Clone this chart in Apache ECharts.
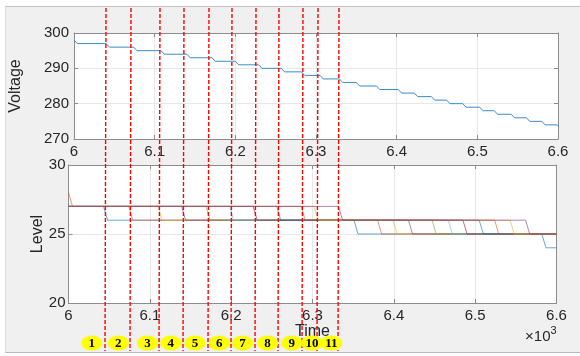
<!DOCTYPE html>
<html>
<head>
<meta charset="utf-8">
<script src="https://cdn.jsdelivr.net/npm/echarts@6/dist/echarts.min.js"></script>
<style>
  html, body { margin: 0; padding: 0; background: #fff; }
  #frame { position: absolute; left: 5px; top: 6px; width: 575px; height: 347px; background: #f0f0f0;
           border-top: 1px solid #c4c4c4; border-bottom: 1px solid #b8b8b8; border-left: 1px solid #dcdcdc; box-sizing: border-box; }
  #chart { position: absolute; left: 0; top: 0; width: 580px; height: 356px; }
</style>
</head>
<body>
<div id="frame"></div>
<div id="chart"></div>
<script>
// time axis (raw units, shown as x10^3)
const timeMin = 6000;
const timeMax = 6600;
const timeStep = 100;

// voltage: level before each drop, and the time each drop starts
const voltLevels = [298, 297, 296, 295, 294, 293, 292, 291, 290, 289, 288, 287, 286,
                    285, 284, 283, 282, 281, 280, 279, 278, 277, 276, 275, 274, 273];
const voltDropTimes = [6000, 6040, 6074, 6108, 6140, 6171, 6200, 6229, 6257, 6282, 6305, 6329,
                       6350, 6375, 6402, 6422, 6443, 6462, 6482, 6503, 6521, 6542, 6561, 6580, 6599];

// level: one line per cell (11), starting level and drop times
const levelStart = [27, 28, 27, 27, 27, 27, 27, 27, 27, 27, 27];
const levelDrop28 = [null, 6000, null, null, null, null, null, null, null, null, null];
const levelDrop27 = [6043, 6074, 6110, 6139, 6169, 6198, 6227, 6256, 6286, 6302, 6332];
const levelDrop26 = [6351, 6380, 6399, 6418, 6447, 6467, 6485, 6505, 6524, 6543, 6562];
const levelDrop25 = [6582, null, null, null, null, null, null, null, null, null, null];
const levelColors = ['#0072BD', '#D95319', '#EDB120', '#7E2F8E', '#77AC30', '#4DBEEE',
                     '#A2142F', '#0072BD', '#D95319', '#EDB120', '#7E2F8E'];

// annotation: red dashed markers and numbered tags
const markerLineX = [6040, 6071, 6107, 6136, 6167, 6196, 6225, 6254, 6284, 6302, 6329];
const markerTagX = [6022, 6055, 6091, 6120, 6150, 6180, 6209, 6240, 6270, 6295, 6319];
const markerTags = ['1', '2', '3', '4', '5', '6', '7', '8', '9', '10', '11'];

const voltRamp = 4;
const levelRamp = 5;

const axisGray = '#8c8c8c';
const textColor = '#262626';
const fontFamily = '"Liberation Sans", Arial, sans-serif';

// build step lines from the read values
const voltPoints = [[timeMin, voltLevels[0]]];
voltDropTimes.forEach((t, i) => {
  voltPoints.push([t, voltLevels[i]]);
  voltPoints.push([t + voltRamp, voltLevels[i + 1]]);
});
voltPoints.push([timeMax + voltRamp, voltLevels[voltLevels.length - 1]]);

function levelPoints(i) {
  let v = levelStart[i];
  const pts = [[timeMin, v]];
  [levelDrop28[i], levelDrop27[i], levelDrop26[i], levelDrop25[i]].forEach(d => {
    if (d == null) return;
    pts.push([d, v]);
    v -= 1;
    pts.push([d + levelRamp, v]);
  });
  pts.push([timeMax, v]);
  return pts;
}

const fmtTime = v => String(v / 1000);

function xAxisPair(gridIndex) {
  return [
    {
      type: 'value', gridIndex, min: timeMin, max: timeMax, interval: timeStep,
      axisLine: { show: true, lineStyle: { color: axisGray } },
      axisTick: { show: true, inside: true, length: 4, lineStyle: { color: axisGray } },
      axisLabel: { color: textColor, fontSize: 15, fontFamily, margin: 5, formatter: fmtTime },
      splitLine: { show: true, lineStyle: { color: '#e8e8e8' } }
    },
    {
      type: 'value', gridIndex, position: 'top', min: timeMin, max: timeMax, interval: timeStep,
      axisLine: { show: true, lineStyle: { color: axisGray } },
      axisTick: { show: true, inside: true, length: 4, lineStyle: { color: axisGray } },
      axisLabel: { show: false }, splitLine: { show: false }
    }
  ];
}

function yAxisPair(gridIndex, min, max, interval, name, nameGap, margin) {
  return [
    {
      type: 'value', gridIndex, min, max, interval,
      name, nameLocation: 'middle', nameGap, nameMoveOverlap: false,
      nameTextStyle: { color: textColor, fontSize: 16, fontFamily },
      axisLine: { show: true, lineStyle: { color: axisGray } },
      axisTick: { show: true, inside: true, length: 4, lineStyle: { color: axisGray } },
      axisLabel: { color: textColor, fontSize: 15, fontFamily, margin },
      splitLine: { show: true, lineStyle: { color: '#e8e8e8' } }
    },
    {
      type: 'value', gridIndex, position: 'right', min, max, interval,
      axisLine: { show: true, lineStyle: { color: axisGray } },
      axisTick: { show: true, inside: true, length: 4, lineStyle: { color: axisGray } },
      axisLabel: { show: false }, splitLine: { show: false }
    }
  ];
}

const xAxes = xAxisPair(0).concat(xAxisPair(1));
xAxes[2].name = 'Time';
xAxes[2].nameLocation = 'middle';
xAxes[2].nameGap = 21;
xAxes[2].nameMoveOverlap = false;
xAxes[2].nameTextStyle = { color: textColor, fontSize: 16, fontFamily };

const series = [{
  type: 'line', xAxisIndex: 0, yAxisIndex: 0, data: voltPoints,
  showSymbol: false, lineStyle: { color: '#3a8ccc', width: 1 }
}];
levelColors.forEach((c, i) => {
  series.push({
    type: 'line', xAxisIndex: 2, yAxisIndex: 2, data: levelPoints(i),
    showSymbol: false, lineStyle: { color: c, width: 1, opacity: 0.6 }
  });
});

const chart = echarts.init(document.getElementById('chart'), null, { renderer: 'canvas' });
chart.setOption({
  animation: false,
  textStyle: { fontFamily },
  grid: [
    { left: 72, top: 33, width: 486, height: 106, show: true, backgroundColor: '#fff', borderWidth: 0 },
    { left: 68.5, top: 165, width: 488, height: 138, show: true, backgroundColor: '#fff', borderWidth: 0 }
  ],
  xAxis: xAxes,
  yAxis: yAxisPair(0, 270, 300, 10, 'Voltage', 50, 5).concat(yAxisPair(1, 20, 30, 5, 'Level', 23, 3)),
  series
});

// annotations drawn in figure space, placed from the time axis
const graphics = [];
markerLineX.forEach(x => {
  const px = Math.round(chart.convertToPixel({ xAxisIndex: 0 }, x));
  graphics.push({
    type: 'line', z: 100, silent: true,
    shape: { x1: px, y1: 8, x2: px - 1, y2: 351 },
    style: { stroke: '#ff0000', lineWidth: 1.4, lineDash: [4, 2] }
  });
});
markerTagX.forEach((x, i) => {
  const px = chart.convertToPixel({ xAxisIndex: 0 }, x);
  graphics.push({
    type: 'ellipse', z: 101, silent: true,
    shape: { cx: px, cy: 343, rx: markerTags[i].length > 1 ? 11 : 10.5, ry: 7.5 },
    style: { fill: '#ffff00' }
  });
  graphics.push({
    type: 'text', z: 102, silent: true,
    style: { text: markerTags[i], x: px, y: 344, align: 'center', verticalAlign: 'middle',
             textAlign: 'center', textVerticalAlign: 'middle',
             font: 'bold 13px "Liberation Serif", "Times New Roman", serif', fill: '#000' }
  });
});
const rightPx = chart.convertToPixel({ xAxisIndex: 2 }, timeMax);
graphics.push({
  type: 'text', z: 50, silent: true,
  style: { text: '\u00d710', x: rightPx - 6, y: 337, align: 'right', verticalAlign: 'middle',
           textAlign: 'right', textVerticalAlign: 'middle', font: '15px ' + fontFamily, fill: textColor }
});
graphics.push({
  type: 'text', z: 50, silent: true,
  style: { text: '3', x: rightPx - 6, y: 331, align: 'left', verticalAlign: 'middle',
           textAlign: 'left', textVerticalAlign: 'middle', font: '11px ' + fontFamily, fill: textColor }
});
chart.setOption({ graphic: graphics });
</script>
</body>
</html>
